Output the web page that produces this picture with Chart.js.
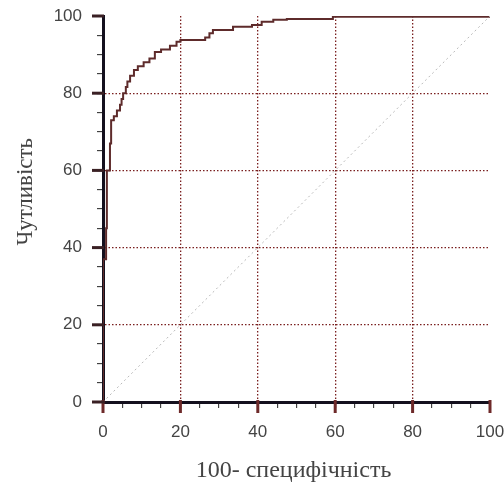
<!DOCTYPE html>
<html>
<head>
<meta charset="utf-8">
<script src="https://cdn.jsdelivr.net/npm/chart.js@4"></script>
<style>
html,body{margin:0;padding:0;background:#fff;}
canvas{display:block;}
</style>
</head>
<body>
<canvas id="c" width="504" height="490"></canvas>
<script>
// ROC curve: 100 - specificity (x) vs sensitivity (y)
const rocX = [0, 0, 0.8, 1.0, 1.8, 2.1, 2.8, 3.6, 4.4, 4.8, 5.2, 5.9, 6.3, 7.0, 8.0, 9.0, 10.5, 12.0, 13.4, 15.0, 17.3, 19.0, 20.0, 26.4, 27.5, 28.4, 33.6, 38.5, 41.0, 44.0, 47.5, 59.4, 100];
const rocY = [0, 37, 45, 60, 67, 73, 74, 75.5, 77, 78.5, 80, 81.6, 83, 84.5, 86, 87, 88, 89, 90.7, 91.3, 92.3, 93.3, 93.8, 94.4, 95.5, 96.4, 97.2, 97.7, 98.5, 99.0, 99.2, 99.8, 100];
const diagX = [0, 100];
const diagY = [0, 100];
const majorTicks = [0, 20, 40, 60, 80, 100];
const xTitle = '100- специфічність\u00a0';
const yTitle = '\u00a0\u00a0\u00a0\u00a0\u00a0\u00a0Чутливість';

const rocData = rocX.map((x, i) => ({x: x, y: rocY[i]}));
const diagData = diagX.map((x, i) => ({x: x, y: diagY[i]}));

const isMajor = v => majorTicks.includes(Math.round(v * 1000) / 1000);
const isGrid = v => isMajor(v) && v !== 0 && v !== 100;

const majorTickPlugin = {
  id: 'majorTicks',
  afterDraw(chart) {
    const ctx = chart.ctx;
    const xs = chart.scales.x, ys = chart.scales.y;
    ctx.save();
    ctx.lineWidth = 3;
    ctx.strokeStyle = '#6e2a2a';
    majorTicks.forEach(v => {
      const px = xs.getPixelForValue(v);
      ctx.beginPath();
      ctx.moveTo(px, xs.top - 2);
      ctx.lineTo(px, xs.top + 11);
      ctx.stroke();
    });
    ctx.strokeStyle = '#3a2024';
    majorTicks.forEach(v => {
      const py = ys.getPixelForValue(v);
      ctx.beginPath();
      ctx.moveTo(ys.right - 11, py);
      ctx.lineTo(ys.right + 1, py);
      ctx.stroke();
    });
    ctx.restore();
  }
};

const tickFont = {family: 'Liberation Sans', size: 17};

function axis(pos) {
  return {
    type: 'linear',
    min: 0, max: 100,
    position: pos,
    ticks: {
      stepSize: 5,
      autoSkip: false,
      maxRotation: 0,
      color: '#444',
      font: tickFont,
      padding: pos === 'bottom' ? 14 : 15,
      callback: v => (isMajor(v) ? String(v) : '')
    },
    grid: {
      drawTicks: true,
      tickLength: 6,
      tickWidth: 1,
      tickColor: '#222',
      lineWidth: 1.3,
      color: ctx => (ctx.tick && isGrid(ctx.tick.value)) ? '#7a1f1f' : 'rgba(0,0,0,0)'
    },
    border: {display: true, color: '#14101e', width: 3, dash: [1.5, 2]},
    title: {
      display: true,
      text: pos === 'bottom' ? xTitle : yTitle,
      color: '#444',
      font: {family: 'Liberation Serif', size: pos === 'bottom' ? 24 : 23},
      padding: pos === 'bottom' ? {top: 0, bottom: 5} : {top: 12, bottom: 0}
    },
    afterFit: s => {
      if (pos === 'bottom') s.height = 88; else s.width = 103;
      s.paddingLeft = 0; s.paddingRight = 0; s.paddingTop = 0; s.paddingBottom = 0;
    }
  };
}

new Chart(document.getElementById('c'), {
  type: 'scatter',
  data: {
    datasets: [
      {
        data: diagData,
        showLine: true,
        borderColor: '#b8b8b8',
        borderWidth: 1,
        borderDash: [2, 3],
        pointRadius: 0
      },
      {
        data: rocData,
        showLine: true,
        stepped: true,
        borderColor: '#5e2b2b',
        borderWidth: 2,
        pointRadius: 0
      }
    ]
  },
  options: {
    responsive: false,
    animation: false,
    layout: {padding: {top: 16, right: 14, left: 0, bottom: 0}},
    plugins: {legend: {display: false}, tooltip: {enabled: false}},
    scales: {
      x: axis('bottom'),
      y: axis('left')
    }
  },
  plugins: [majorTickPlugin]
});
</script>
</body>
</html>
